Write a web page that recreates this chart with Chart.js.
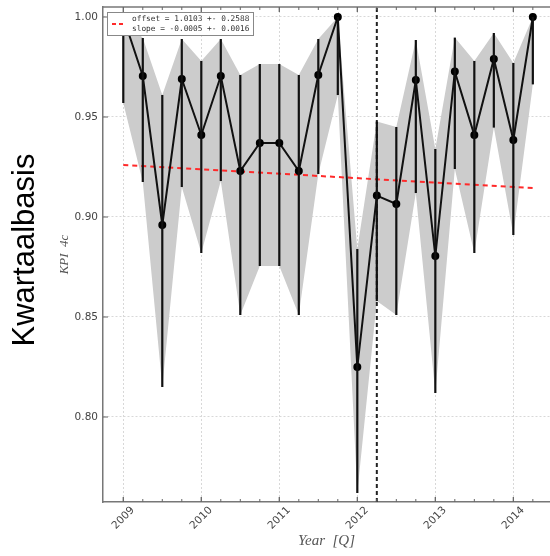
<!DOCTYPE html>
<html>
<head>
    <title>KPI 4c Kwartaalbasis</title>
    <script src="https://cdn.jsdelivr.net/npm/chart.js"></script>
    <style>
        body { margin: 0; background: #fff; }
        #wrap { width: 550px; height: 556px; }
    </style>
</head>
<body>
    <div id="wrap"><canvas id="kpiChart" width="550" height="556"></canvas></div>

    <script>
        // quarters (decimal year) and KPI values
        const quarters = [2009, 2009.25, 2009.5, 2009.75, 2010, 2010.25, 2010.5, 2010.75,
                          2011, 2011.25, 2011.5, 2011.75, 2012, 2012.25, 2012.5, 2012.75,
                          2013, 2013.25, 2013.5, 2013.75, 2014, 2014.25];
        const kpi   = [1.000, 0.9705, 0.896, 0.969, 0.941, 0.9705, 0.923, 0.937,
                       0.937, 0.923, 0.971, 1.000, 0.825, 0.9107, 0.9065, 0.9685,
                       0.8805, 0.9727, 0.941, 0.979, 0.9385, 1.000];
        const kpiLow  = [0.957, 0.9175, 0.815, 0.915, 0.882, 0.918, 0.851, 0.8755,
                         0.8755, 0.851, 0.9215, 0.961, 0.762, 0.858, 0.851, 0.912,
                         0.812, 0.924, 0.882, 0.9447, 0.891, 0.9663];
        const kpiHigh = [1.000, 0.9895, 0.961, 0.989, 0.978, 0.989, 0.971, 0.9765,
                         0.9765, 0.971, 0.989, 1.000, 0.884, 0.9477, 0.945, 0.9885,
                         0.934, 0.9897, 0.978, 0.992, 0.977, 1.000];

        // linear fit endpoints and the marker line
        const fitX = [2009, 2014.25];
        const fitY = [0.926, 0.9145];
        const markerQuarter = 2012.25;

        const yearTicks = [2009, 2010, 2011, 2012, 2013, 2014];
        const kpiTicks = [0.80, 0.85, 0.90, 0.95, 1.00];
        const legendLines = ['offset = 1.0103 +- 0.2588', 'slope = -0.0005 +- 0.0016'];

        const X_MIN = 2008.74, X_MAX = 2014.47;
        const Y_MIN = 0.7575, Y_MAX = 1.005;

        const pts = (xs, ys) => xs.map((x, i) => ({x: x, y: ys[i]}));

        // error bars, ticks, x labels, legend box and side label
        const extras = {
            id: 'extras',
            afterDatasetsDraw(chart) {
                const ctx = chart.ctx;
                const xs = chart.scales.x, ys = chart.scales.y;
                ctx.save();
                ctx.strokeStyle = '#111';
                ctx.lineWidth = 2.2;
                quarters.forEach((q, i) => {
                    const px = xs.getPixelForValue(q);
                    ctx.beginPath();
                    ctx.moveTo(px, ys.getPixelForValue(kpiLow[i]));
                    ctx.lineTo(px, ys.getPixelForValue(kpiHigh[i]));
                    ctx.stroke();
                });
                ctx.restore();
            },
            afterDraw(chart) {
                const ctx = chart.ctx;
                const xs = chart.scales.x, ys = chart.scales.y;
                const area = chart.chartArea;
                ctx.save();

                // top border
                ctx.strokeStyle = '#777';
                ctx.lineWidth = 1.5;
                ctx.beginPath();
                ctx.moveTo(area.left, area.top);
                ctx.lineTo(area.right, area.top);
                ctx.stroke();

                // inside ticks
                ctx.lineWidth = 1;
                ctx.strokeStyle = '#666';
                quarters.concat(yearTicks).forEach(q => {
                    const px = xs.getPixelForValue(q);
                    const len = yearTicks.includes(q) ? 5 : 3;
                    ctx.beginPath();
                    ctx.moveTo(px, area.bottom); ctx.lineTo(px, area.bottom - len);
                    ctx.moveTo(px, area.top); ctx.lineTo(px, area.top + len);
                    ctx.stroke();
                });
                kpiTicks.forEach(v => {
                    const py = ys.getPixelForValue(v);
                    ctx.beginPath();
                    ctx.moveTo(area.left, py); ctx.lineTo(area.left + 5, py);
                    ctx.stroke();
                });

                // rotated year labels centred on the tick
                ctx.fillStyle = '#444';
                ctx.font = '10.5px "DejaVu Sans"';
                ctx.textAlign = 'center';
                ctx.textBaseline = 'middle';
                yearTicks.forEach(y => {
                    ctx.save();
                    ctx.translate(xs.getPixelForValue(y), area.bottom + 16);
                    ctx.rotate(-Math.PI / 4);
                    ctx.fillText(String(y), 0, 0);
                    ctx.restore();
                });

                // legend box
                const bx = area.left + 4, by = area.top + 5;
                ctx.fillStyle = '#fff';
                ctx.fillRect(bx, by, 146, 23);
                ctx.strokeStyle = '#888';
                ctx.lineWidth = 1;
                ctx.strokeRect(bx + 0.5, by + 0.5, 146, 23);
                ctx.strokeStyle = '#ff2a2a';
                ctx.lineWidth = 2;
                ctx.setLineDash([4, 3]);
                ctx.beginPath();
                ctx.moveTo(bx + 5, by + 12); ctx.lineTo(bx + 19, by + 12);
                ctx.stroke();
                ctx.setLineDash([]);
                ctx.fillStyle = '#333';
                ctx.font = '7.8px "DejaVu Sans Mono"';
                ctx.textAlign = 'left';
                ctx.fillText(legendLines[0], bx + 25, by + 6.5);
                ctx.fillText(legendLines[1], bx + 25, by + 17);

                // big side label
                ctx.fillStyle = '#000';
                ctx.font = '31px "Liberation Sans"';
                ctx.textAlign = 'center';
                ctx.textBaseline = 'alphabetic';
                ctx.translate(34, 250);
                ctx.rotate(-Math.PI / 2);
                ctx.fillText('Kwartaalbasis', 0, 0);
                ctx.restore();
            }
        };

        const ctx = document.getElementById('kpiChart').getContext('2d');
        new Chart(ctx, {
            type: 'line',
            data: {
                datasets: [
                    {
                        label: 'fit',
                        data: pts(fitX, fitY),
                        borderColor: '#ff2a2a',
                        borderWidth: 2,
                        borderDash: [5, 4],
                        pointRadius: 0,
                        fill: false,
                        order: 2
                    },
                    {
                        label: 'KPI 4c',
                        data: pts(quarters, kpi),
                        borderColor: '#111',
                        borderWidth: 2,
                        pointRadius: 3,
                        pointBackgroundColor: '#000',
                        pointBorderColor: '#000',
                        fill: false,
                        order: 1
                    },
                    {
                        label: 'marker',
                        data: [{x: markerQuarter, y: Y_MIN}, {x: markerQuarter, y: Y_MAX}],
                        borderColor: '#222',
                        borderWidth: 2,
                        borderDash: [4, 3],
                        pointRadius: 0,
                        fill: false,
                        order: 0
                    },
                    {
                        label: 'high',
                        data: pts(quarters, kpiHigh),
                        borderWidth: 0,
                        borderColor: 'rgba(0,0,0,0)',
                        backgroundColor: '#cccccc',
                        pointRadius: 0,
                        fill: '+1',
                        order: 10
                    },
                    {
                        label: 'low',
                        data: pts(quarters, kpiLow),
                        borderWidth: 0,
                        borderColor: 'rgba(0,0,0,0)',
                        pointRadius: 0,
                        fill: false,
                        order: 11
                    }
                ]
            },
            options: {
                responsive: false,
                animation: false,
                layout: { autoPadding: false, padding: { top: 7, right: 0, left: 0, bottom: 0 } },
                plugins: {
                    legend: { display: false },
                    tooltip: { enabled: false }
                },
                scales: {
                    x: {
                        type: 'linear',
                        min: X_MIN,
                        max: X_MAX,
                        afterBuildTicks: s => { s.ticks = yearTicks.map(v => ({value: v})); },
                        afterFit: s => { s.height = 54; s.paddingLeft = 0; s.paddingRight = 0; },
                        ticks: { display: false },
                        grid: { color: '#d8d8d8', lineWidth: 1, drawTicks: false },
                        border: { color: '#777', width: 1.5, dash: [2, 2] },
                        title: {
                            display: true,
                            text: 'Year  [Q]',
                            color: '#555',
                            font: { family: 'Liberation Serif', style: 'italic', size: 15 },
                            padding: { top: 0, bottom: 6 }
                        }
                    },
                    y: {
                        min: Y_MIN,
                        max: Y_MAX,
                        afterBuildTicks: s => { s.ticks = kpiTicks.map(v => ({value: v})); },
                        afterFit: s => { s.width = 103; s.paddingTop = 0; s.paddingBottom = 0; },
                        ticks: {
                            color: '#444',
                            padding: 5,
                            font: { family: 'DejaVu Sans', size: 10.5 },
                            callback: v => v.toFixed(2)
                        },
                        grid: { color: '#d8d8d8', lineWidth: 1, drawTicks: false },
                        border: { color: '#777', width: 1.5, dash: [2, 2] },
                        title: {
                            display: true,
                            text: 'KPI  4c',
                            color: '#555',
                            font: { family: 'Liberation Serif', style: 'italic', size: 13 },
                            padding: { top: 57, bottom: 0 }
                        }
                    }
                }
            },
            plugins: [extras]
        });
    </script>
</body>
</html>
